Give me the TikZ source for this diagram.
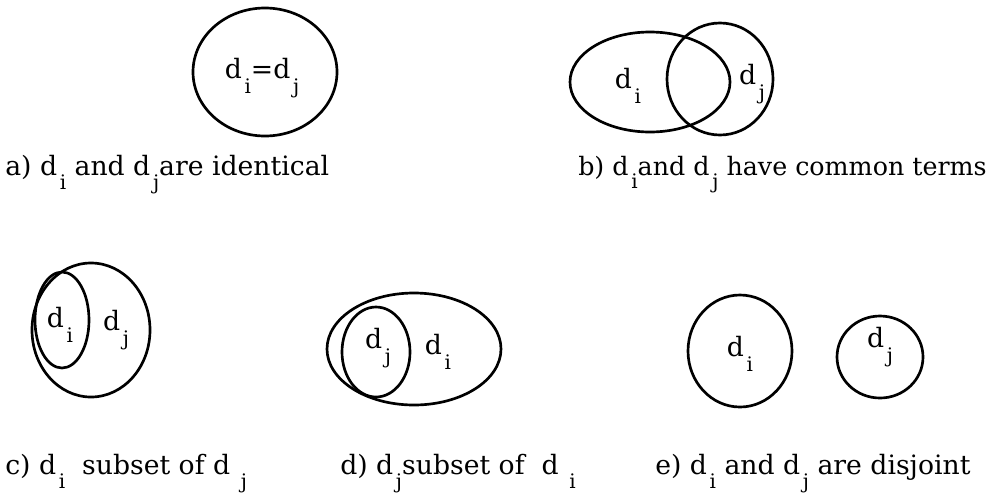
\documentclass[tikz,border=0pt]{standalone}
\usepackage{fontspec}
\setmainfont{DejaVu Serif}
\usepackage{tikz}
\newcommand{\dsub}[1]{d\kern2pt\raisebox{-0.55em}{\fontsize{15}{15}\selectfont #1}}

\begin{document}
\begin{tikzpicture}[x=0.75pt, y=-0.75pt,
	setline/.style={line width=2pt},
	lbl/.style={font=\fontsize{20}{24}\selectfont, inner sep=0pt},
	captext/.style={font=\fontsize{20}{24}\selectfont, anchor=base west, inner sep=0pt}]
	\useasboundingbox (0,0) rectangle (994,497);
	% a) identical
	\draw[setline] (265,72) ellipse [x radius=72, y radius=64];
	\node[lbl] (aij) at (262,78) {\dsub{i}=\dsub{j}};
	\node[captext] (capa) at (5,175) {a) \dsub{i} and \dsub{j}are identical};
	% b) common terms
	\draw[setline] (650,82) ellipse [x radius=80, y radius=50];
	\draw[setline] (720,79) ellipse [x radius=53, y radius=56];
	\node[lbl] (bi) at (628,86) {\dsub{i}};
	\node[lbl] (bj) at (752,84) {\dsub{j}};
	\node[captext, font=\fontsize{19}{23}\selectfont] (capb) at (578,175) {b) \dsub{i}and \dsub{j} have common terms};
	% c) d_i subset of d_j
	\draw[setline] (91,330) ellipse [x radius=59, y radius=67];
	\draw[setline] (62,320) ellipse [x radius=27, y radius=48];
	\node[lbl] (ci) at (60,325) {\dsub{i}};
	\node[lbl] (cj) at (116,330) {\dsub{j}};
	\node[captext] (capc) at (5,474) {c) \dsub{i}\ \ subset of \dsub{\hspace{6pt}j}};
	% d) d_j subset of d_i
	\draw[setline] (414,349) ellipse [x radius=87, y radius=56];
	\draw[setline] (376,352) ellipse [x radius=34, y radius=45];
	\node[lbl] (dj) at (378,348) {\dsub{j}};
	\node[lbl] (di) at (438,352) {\dsub{i}};
	\node[captext] (capd) at (340,474) {d) \dsub{j}subset of \ \dsub{\hspace{6pt}i}};
	% e) disjoint
	\draw[setline] (740,351) ellipse [x radius=52, y radius=56];
	\draw[setline] (880,357) ellipse [x radius=43, y radius=41];
	\node[lbl] (ei) at (740,354) {\dsub{i}};
	\node[lbl] (ej) at (880,347) {\dsub{j}};
	\node[captext] (cape) at (655,474) {e) \dsub{i} and \dsub{j} are disjoint};
\end{tikzpicture}
\end{document}
